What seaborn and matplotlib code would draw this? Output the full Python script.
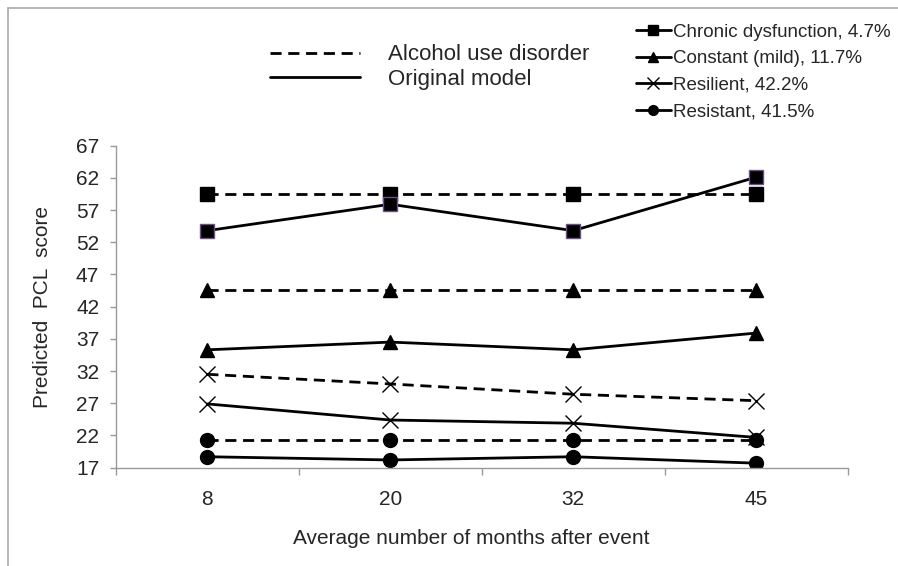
import pandas as pd
import seaborn as sns
import matplotlib
matplotlib.use('Agg')
import matplotlib.pyplot as plt
from matplotlib.lines import Line2D

# data
months = ['8', '20', '32', '45']
groups = ['Chronic dysfunction, 4.7%', 'Constant (mild), 11.7%',
          'Resilient, 42.2%', 'Resistant, 41.5%']
markers = ['s', '^', 'x', 'o']

chronic_aud = [59.5, 59.5, 59.5, 59.5]
chronic_orig = [53.8, 57.9, 53.8, 62.1]
constant_aud = [44.6, 44.6, 44.6, 44.6]
constant_orig = [35.3, 36.5, 35.3, 37.9]
resilient_aud = [31.5, 30.0, 28.4, 27.4]
resilient_orig = [26.9, 24.4, 23.9, 21.7]
resistant_aud = [21.3, 21.3, 21.3, 21.3]
resistant_orig = [18.7, 18.2, 18.7, 17.7]

aud = [chronic_aud, constant_aud, resilient_aud, resistant_aud]
orig = [chronic_orig, constant_orig, resilient_orig, resistant_orig]

sns.set_theme(style='white')
plt.rcParams['font.family'] = ['Liberation Sans', 'DejaVu Sans']

fig = plt.figure(figsize=(8.98, 5.66), dpi=100)
ax = fig.add_axes([0.129, 0.1737, 0.815, 0.569])

msize = {'s': 9.5, '^': 10, 'x': 11, 'o': 10}

xpos = list(range(len(months)))
for i, g in enumerate(groups):
    mk = markers[i]
    # alcohol use disorder (dashed)
    df = pd.DataFrame({'x': xpos, 'y': aud[i]})
    sns.lineplot(data=df, x='x', y='y', ax=ax, color='black', lw=2,
                 marker=mk, markersize=msize[mk], markeredgewidth=1,
                 markeredgecolor='black', legend=False)
    ax.lines[-1].set_dashes((4, 2.4))
    # original model (solid)
    df = pd.DataFrame({'x': xpos, 'y': orig[i]})
    edge = '#6b4f86' if mk == 's' else 'black'
    sns.lineplot(data=df, x='x', y='y', ax=ax, color='black', lw=2,
                 marker=mk, markersize=msize[mk], markeredgewidth=1,
                 markeredgecolor=edge, legend=False)

ax.set_xlim(-0.5, 3.5)
ax.set_ylim(17, 67)
ax.set_yticks(range(17, 68, 5))
ax.set_xticks(xpos)
ax.set_xticklabels(months)
ax.set_xticks([-0.5, 0.5, 1.5, 2.5, 3.5], minor=True)
ax.tick_params(axis='x', which='major', length=0, pad=16, labelsize=15)
ax.tick_params(axis='x', which='minor', length=5, width=1, color='#999999', direction='out')
ax.tick_params(axis='y', length=4, width=1, color='#999999', direction='out', labelsize=15, pad=8)
ax.tick_params(bottom=True, left=True, which='both')
for s in ['top', 'right']:
    ax.spines[s].set_visible(False)
for s in ['left', 'bottom']:
    ax.spines[s].set_color('#999999')
    ax.spines[s].set_linewidth(1)
ax.set_xlabel('Average number of months after event', fontsize=15)
ax.xaxis.set_label_coords(0.485, -0.19)
ax.set_ylabel('Predicted  PCL  score', fontsize=15, labelpad=17)

# legend for line styles
style_handles = [Line2D([], [], color='black', lw=2, dashes=(4, 2.4)),
                 Line2D([], [], color='black', lw=2)]
fig.legend(style_handles, ['Alcohol use disorder', 'Original model'],
           loc='upper left', bbox_to_anchor=(0.2784, 0.957), frameon=False,
           fontsize=16, handlelength=4.05, handletextpad=1.26, labelspacing=0.15)

# legend for groups
grp_handles = [Line2D([], [], color='black', lw=2, marker=m,
                      markersize=(9 if m == 'x' else 7), markeredgewidth=1)
               for m in markers]
fig.legend(grp_handles, groups, loc='upper left', bbox_to_anchor=(0.689, 0.988),
           frameon=False, fontsize=13.5, handlelength=1.9, handletextpad=0.1,
           labelspacing=0.5)

# outer chart frame edges
fig.add_artist(Line2D([0.009, 0.009], [0, 0.986], color='#aaaaaa', lw=1.2,
                      transform=fig.transFigure))
fig.add_artist(Line2D([0.009, 1], [0.986, 0.986], color='#aaaaaa', lw=1.2,
                      transform=fig.transFigure))

fig.savefig('out.png', dpi=100)
